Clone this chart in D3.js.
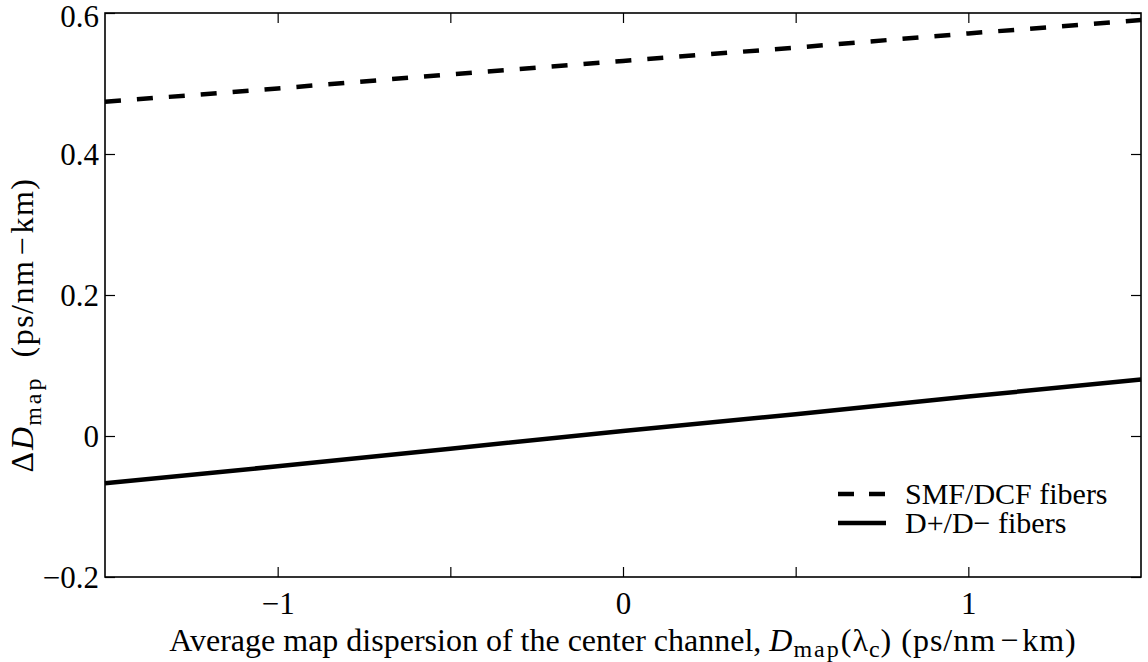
<!DOCTYPE html>
<html><head><meta charset="utf-8">
<script src="https://cdn.jsdelivr.net/npm/d3@7"></script>
<style>body{margin:0;background:#fff}svg{display:block}</style>
</head><body><svg id="c" width="1148" height="662"></svg>
<script>
const xValues = [-1.5, -1, -0.5, 0, 0.5, 1, 1.5];
const smfDcf = [0.474, 0.493, 0.513, 0.532, 0.551, 0.571, 0.590];
const dPlusMinus = [-0.067, -0.043, -0.018, 0.007, 0.031, 0.056, 0.080];
const xTicks = [-1, -0.5, 0, 0.5, 1];
const xTickLabels = ["\u22121", "", "0", "", "1"];
const yTicks = [-0.2, 0, 0.2, 0.4, 0.6];
const yTickLabels = ["\u22120.2", "0", "0.2", "0.4", "0.6"];
const seriesNames = ["SMF/DCF fibers", "D+/D\u2212 fibers"];

const FONT = "'Liberation Serif', 'Times New Roman', serif";
const L = 105, R = 1141, T = 13, B = 577;
const svg = d3.select("#c");
const x = d3.scaleLinear().domain([-1.5, 1.5]).range([L, R]);
const y = d3.scaleLinear().domain([-0.2, 0.6]).range([B, T]);
const fs = 31;

svg.append("rect").attr("x", L).attr("y", T).attr("width", R - L).attr("height", B - T)
  .attr("fill", "none").attr("stroke", "#000").attr("stroke-width", 1.6);

const xa = svg.append("g").attr("transform", `translate(0,${B})`)
  .call(d3.axisBottom(x).tickValues(xTicks).tickSize(-10).tickPadding(15)
    .tickFormat((d, i) => xTickLabels[i]));
const xt = svg.append("g").attr("transform", `translate(0,${T})`)
  .call(d3.axisTop(x).tickValues(xTicks).tickSize(-10).tickFormat(""));
const ya = svg.append("g").attr("transform", `translate(${L},0)`)
  .call(d3.axisLeft(y).tickValues(yTicks).tickSize(-10).tickPadding(6)
    .tickFormat((d, i) => yTickLabels[i]));
const yr = svg.append("g").attr("transform", `translate(${R},0)`)
  .call(d3.axisRight(y).tickValues(yTicks).tickSize(-10).tickFormat(""));
[xa, xt, ya, yr].forEach(g => {
  g.attr("font-family", null).attr("font-size", null);
  g.select(".domain").remove();
  g.selectAll(".tick line").attr("stroke", "#000").attr("stroke-width", 1.2);
  g.selectAll("text").style("font-family", FONT).style("font-size", fs + "px").attr("fill", "#000");
});
ya.selectAll("text").attr("dy", "0.35em");
ya.selectAll(".tick").filter(d => d === 0.6).select("text").attr("dy", "0.45em");
xa.selectAll("text").attr("dy", "0.71em");

const line = d3.line().x((d, i) => x(xValues[i])).y(d => y(d));
svg.append("path").datum(smfDcf).attr("d", line).attr("fill", "none")
  .attr("stroke", "#000").attr("stroke-width", 4.5).attr("stroke-dasharray", "16,16");
svg.append("path").datum(dPlusMinus).attr("d", line).attr("fill", "none")
  .attr("stroke", "#000").attr("stroke-width", 4.5);

const leg = svg.append("g");
const ly = [494, 523];
leg.append("line").attr("x1", 838).attr("x2", 886).attr("y1", ly[0]).attr("y2", ly[0])
  .attr("stroke", "#000").attr("stroke-width", 4.5).attr("stroke-dasharray", "16,15");
leg.append("line").attr("x1", 838).attr("x2", 886).attr("y1", ly[1]).attr("y2", ly[1])
  .attr("stroke", "#000").attr("stroke-width", 4.5);
seriesNames.forEach((s, i) => {
  leg.append("text").attr("x", 905).attr("y", ly[i]).attr("dy", "0.33em")
    .style("font-family", FONT).style("font-size", "30px").text(s);
});

const tfs = 32, sub = 24;
const xtitle = svg.append("text").attr("x", (L + R) / 2).attr("y", 651)
  .attr("text-anchor", "middle").style("font-family", FONT).style("font-size", tfs + "px");
xtitle.append("tspan").text("Average map dispersion of the center channel, ");
xtitle.append("tspan").attr("font-style", "italic").text("D");
xtitle.append("tspan").style("font-size", sub + "px").attr("dx", 1).attr("dy", 6).attr("letter-spacing", 2).text("map");
xtitle.append("tspan").attr("dy", -6).attr("letter-spacing", 1).text("(\u03bb");
xtitle.append("tspan").style("font-size", sub + "px").attr("dy", 6).attr("letter-spacing", 1).text("c");
xtitle.append("tspan").attr("dy", -6).attr("letter-spacing", 1).text(") (ps/nm");
xtitle.append("tspan").attr("dx", 4).text("\u2212");
xtitle.append("tspan").attr("dx", 4).attr("letter-spacing", 1).text("km)");

const ytitle = svg.append("text").attr("transform", `translate(33,${(T + B) / 2 + 30}) rotate(-90)`)
  .attr("text-anchor", "middle").style("font-family", FONT).style("font-size", tfs + "px");
ytitle.append("tspan").attr("letter-spacing", 2).text("\u0394");
ytitle.append("tspan").attr("font-style", "italic").text("D");
ytitle.append("tspan").style("font-size", sub + "px").attr("dx", 1).attr("dy", 8).attr("letter-spacing", 3).text("map");
ytitle.append("tspan").attr("dy", -8).attr("dx", 18).attr("letter-spacing", 1.5).text("(ps/nm");
ytitle.append("tspan").attr("dx", 4).text("\u2212");
ytitle.append("tspan").attr("dx", 4).attr("letter-spacing", 1.5).text("km)");
</script></body></html>
